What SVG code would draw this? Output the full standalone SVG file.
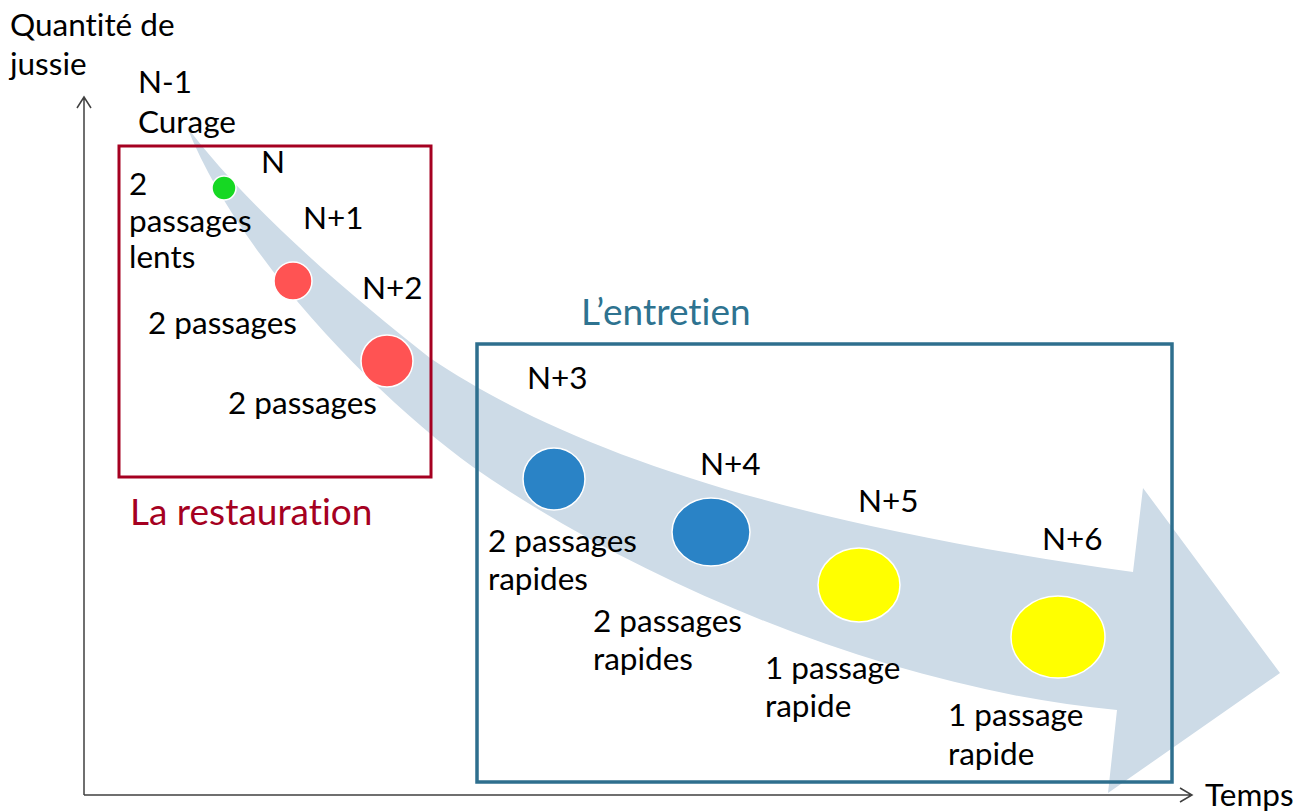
<svg xmlns="http://www.w3.org/2000/svg" width="1306" height="812" viewBox="0 0 1306 812">
<style>
text{font-family:Lato,"Open Sans","Liberation Sans",sans-serif;fill:#000;font-variant-ligatures:none}
.t{font-size:31.5px}
.ttl{font-size:37px}
.ax{stroke:#404040;stroke-width:1.5;fill:none}
.dot{stroke:#fff;stroke-width:1.5}
</style>
<rect width="1306" height="812" fill="#fff"/>
<g id="axes">
<path class="ax" d="M84,795 V98 M77,108 L84,97 L91,108"/>
<path class="ax" d="M84,795 H1192 M1180,788 L1192,795 L1180,802"/>
<text class="t" x="10" y="36">Quantité de</text>
<text class="t" x="10" y="75">jussie</text>
<text class="t" x="1205" y="806">Temps</text>
</g>
<g id="arrow">
<path fill="#CDDBE7" d="M187,127 C250,210 350,295 430,358 C560,445 760,520 1133,572 L1143,488 L1280,673 L1108,793 L1117,710 C900,690 650,590 473,467 C380,400 240,260 187,127 Z"/>
</g>
<g id="restauration">
<rect x="119" y="146" width="312" height="331" fill="none" stroke="#A50021" stroke-width="3"/>
<text class="ttl" x="130" y="525" style="fill:#A50021">La restauration</text>
</g>
<g id="entretien">
<rect x="477" y="344" width="695" height="438" fill="none" stroke="#2E6F8E" stroke-width="3.5"/>
<text class="ttl" x="581" y="325" style="fill:#2E7390">L’entretien</text>
</g>
<g id="n-1">
<text class="t" x="138" y="93">N-1</text>
<text class="t" x="138" y="133">Curage</text>
</g>
<g id="n">
<circle class="dot" cx="224" cy="188" r="12" fill="#16D823"/>
<text class="t" x="261" y="173">N</text>
<text class="t" x="129" y="195">2</text>
<text class="t" x="129" y="232">passages</text>
<text class="t" x="129" y="268">lents</text>
</g>
<g id="n1">
<circle class="dot" cx="293" cy="281" r="19" fill="#FF5353"/>
<text class="t" x="303" y="229">N+1</text>
<text class="t" x="148" y="334">2 passages</text>
</g>
<g id="n2">
<circle class="dot" cx="387" cy="361" r="26" fill="#FF5353"/>
<text class="t" x="362" y="299">N+2</text>
<text class="t" x="228" y="414">2 passages</text>
</g>
<g id="n3">
<circle class="dot" cx="554" cy="479" r="31" fill="#2A83C6"/>
<text class="t" x="527" y="389">N+3</text>
<text class="t" x="488" y="552">2 passages</text>
<text class="t" x="488" y="590">rapides</text>
</g>
<g id="n4">
<ellipse class="dot" cx="711" cy="532" rx="39" ry="34" fill="#2A83C6"/>
<text class="t" x="700" y="475">N+4</text>
<text class="t" x="593" y="632">2 passages</text>
<text class="t" x="593" y="670">rapides</text>
</g>
<g id="n5">
<ellipse class="dot" cx="859" cy="585" rx="41" ry="37" fill="#FFFF00"/>
<text class="t" x="858" y="512">N+5</text>
<text class="t" x="765" y="679">1 passage</text>
<text class="t" x="765" y="717">rapide</text>
</g>
<g id="n6">
<ellipse class="dot" cx="1058" cy="637" rx="47" ry="41" fill="#FFFF00"/>
<text class="t" x="1042" y="550">N+6</text>
<text class="t" x="948" y="726">1 passage</text>
<text class="t" x="948" y="765">rapide</text>
</g>
</svg>
